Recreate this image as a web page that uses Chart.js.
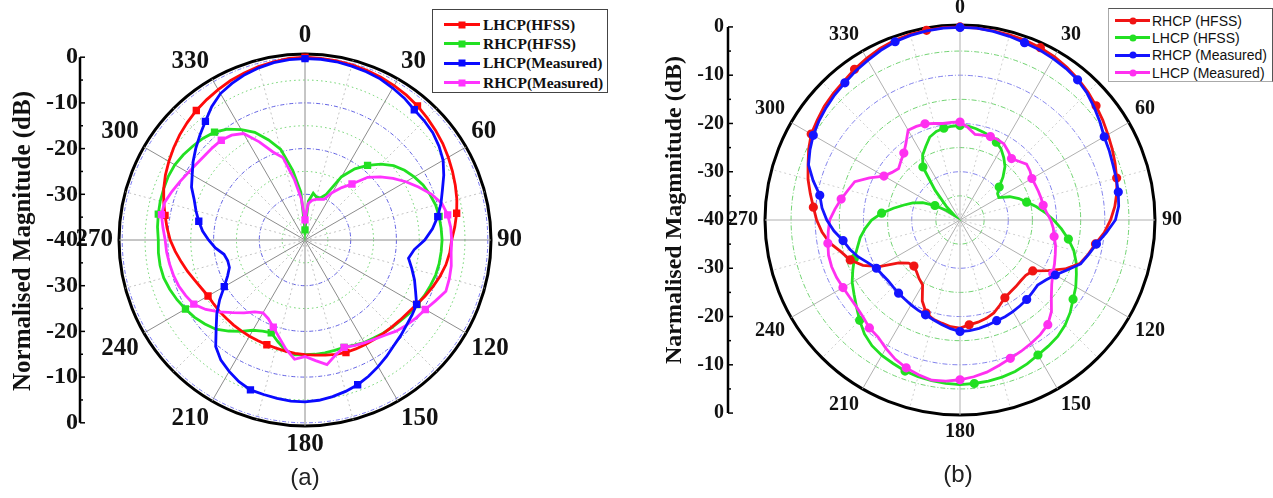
<!DOCTYPE html>
<html><head><meta charset="utf-8">
<script src="https://cdn.jsdelivr.net/npm/chart.js@4.4.1/dist/chart.umd.min.js"></script>
<style>
html,body{margin:0;padding:0;background:#fff;width:1273px;height:498px;overflow:hidden;position:relative}
canvas{position:absolute}
#ca{left:0;top:0}
#cb{left:650px;top:-10px}
.legend{position:absolute;background:#fff;box-sizing:border-box}
#legA{left:432px;top:9px;width:176px;height:84px;border:1.5px solid #444;padding:5px 0 0 11px;font:bold 15.5px "Liberation Serif",serif;color:#111}
#legB{left:1108px;top:8px;width:165px;height:74px;border:1px solid #aaa;border-top-color:#555;border-right-color:#555;padding:3px 0 0 6px;font:14px "Liberation Sans",Arial,sans-serif;color:#111}
.row{display:flex;align-items:center;white-space:nowrap}
#legA .row{height:19.3px}
#legB .row{height:17.3px}
.sw{position:relative;display:inline-block;height:3px;margin-right:3px}
#legA .sw{width:36px}
#legB .sw{width:35px;margin-right:2px}
.mk{position:absolute;left:50%;top:50%;width:7px;height:7px;transform:translate(-50%,-50%)}
.cap{position:absolute;transform:translate(-50%,-50%);font:24px "Liberation Sans",Arial,sans-serif;color:#222}
</style></head><body>
<canvas id="ca" width="610" height="480"></canvas>
<canvas id="cb" width="621" height="480"></canvas>
<div id="legA" class="legend"></div>
<div id="legB" class="legend"></div>
<div class="cap" style="left:305px;top:477px">(a)</div>
<div class="cap" style="left:958px;top:474px">(b)</div>
<script>
// ---- categories: angle in degrees (5 degree steps) ----
const angles = [0,5,10,15,20,25,30,35,40,45,50,55,60,65,70,75,80,85,90,95,100,105,110,115,120,125,130,135,140,145,150,155,160,165,170,175,180,185,190,195,200,205,210,215,220,225,230,235,240,245,250,255,260,265,270,275,280,285,290,295,300,305,310,315,320,325,330,335,340,345,350,355];
const angleTickLabels = [0,30,60,90,120,150,180,210,240,270,300,330];
const magnitudeTicks = [0,-10,-20,-30,-40];
const ringValues = [-40,-35,-30,-25,-20,-15,-10,-5,0];

// ---- panel (a) series (dB) ----
const aLabels = ['LHCP(HFSS)','RHCP(HFSS)','LHCP(Measured)','RHCP(Measured)'];
const aLhcpHfss = [0,-0.1,-0.2,-0.3,-0.5,-0.7,-1.0,-1.3,-1.7,-2.2,-2.7,-3.2,-3.8,-4.4,-5.0,-5.6,-6.3,-7.1,-7.9,-8.2,-8.7,-9.4,-10.2,-11.0,-11.8,-12.4,-12.8,-13.1,-13.3,-13.5,-13.6,-13.7,-13.8,-14.1,-14.4,-14.7,-14.9,-15.1,-15.3,-15.5,-15.6,-15.7,-15.7,-15.7,-15.7,-15.7,-15.6,-15.6,-15.5,-15.0,-14.3,-13.4,-12.5,-11.5,-10.5,-9.7,-8.9,-8.0,-7.1,-6.3,-5.6,-4.9,-4.2,-3.6,-3.0,-2.5,-2.0,-1.5,-1.1,-0.7,-0.4,-0.1];
const aRhcpHfss = [-37.8,-31.5,-29.6,-30.3,-30.2,-29.0,-24.0,-21.0,-18.7,-16.5,-14.7,-13.4,-12.4,-11.5,-10.9,-10.4,-10.2,-10.1,-10.0,-10.1,-10.2,-10.4,-10.8,-11.2,-11.7,-12.1,-12.6,-13.0,-13.4,-13.8,-14.1,-14.6,-15.0,-15.0,-14.9,-14.9,-14.9,-14.8,-15.5,-17.0,-18.4,-18.0,-17.2,-15.6,-14.0,-12.4,-11.4,-10.5,-9.8,-9.1,-8.5,-8.0,-7.8,-7.8,-7.9,-7.6,-7.4,-7.2,-7.1,-7.0,-7.1,-7.5,-8.0,-8.5,-9.2,-10.4,-12.1,-14.0,-16.7,-19.5,-24.5,-29.5];
const aLhcpMeas = [-0.3,-0.3,-0.4,-0.6,-0.8,-1.1,-1.6,-2.1,-2.8,-3.1,-3.5,-4.2,-5.1,-6.5,-8.0,-9.2,-10.5,-12.0,-13.8,-16.0,-17.0,-15.8,-14.5,-13.3,-11.8,-11.4,-11.0,-10.4,-9.8,-8.9,-8.0,-7.1,-6.3,-5.7,-5.2,-4.8,-4.6,-4.6,-4.8,-5.0,-5.1,-5.8,-6.8,-7.9,-9.6,-12.5,-14.8,-17.2,-19.6,-21.3,-22.4,-22.5,-22.0,-20.3,-18.9,-17.5,-16.4,-15.3,-14.2,-12.6,-11.5,-10.1,-8.8,-7.5,-6.1,-4.4,-3.0,-2.2,-1.5,-1.0,-0.6,-0.4];
const aRhcpMeas = [-35.6,-32.0,-31.2,-30.8,-30.5,-30.2,-28.0,-26.0,-24.0,-20.6,-18.5,-16.5,-14.5,-12.6,-10.6,-9.0,-8.3,-8.0,-7.9,-7.9,-7.5,-7.3,-7.2,-8.5,-9.6,-10.3,-11.0,-11.8,-12.8,-13.5,-14.0,-14.5,-15.0,-14.0,-12.3,-13.5,-14.5,-13.8,-15.8,-18.0,-19.7,-21.0,-21.6,-20.8,-19.2,-17.5,-15.5,-13.5,-11.9,-11.2,-10.6,-10.2,-9.9,-9.6,-9.4,-8.8,-8.1,-8.2,-9.0,-9.8,-10.5,-11.0,-11.3,-11.4,-11.5,-12.0,-13.1,-16.3,-19.5,-21.3,-26.5,-31.0];

// ---- panel (b) series (dB) ----
const bLabels = ['RHCP (HFSS)','LHCP (HFSS)','RHCP (Measured)','LHCP (Measured)'];
const bRhcpHfss = [0,-0.1,-0.2,-0.3,-0.4,-0.6,-0.9,-1.4,-1.9,-2.5,-3.2,-3.9,-4.6,-5.2,-5.8,-6.4,-7.0,-7.8,-8.8,-10.0,-11.5,-12.5,-13.6,-16.0,-19.0,-21.6,-22.2,-22.2,-22.0,-21.8,-21.4,-20.5,-19.5,-18.9,-18.5,-18.2,-17.6,-17.8,-18.3,-18.7,-19.5,-21.5,-24.5,-25.2,-26.0,-26.5,-26.1,-24.5,-20.7,-17.8,-15.8,-14.5,-12.6,-11.3,-10.3,-9.5,-8.5,-7.4,-6.5,-5.4,-4.4,-3.9,-3.3,-2.9,-2.5,-1.9,-1.3,-0.8,-0.4,-0.2,-0.1,0];
const bLhcpHfss = [-20.4,-20.5,-20.8,-21.2,-21.5,-22.2,-23.0,-24.2,-25.5,-27.4,-29.4,-30.5,-30.7,-28.6,-27.0,-25.7,-24.0,-22.3,-20.6,-18.9,-17.2,-15.6,-14.4,-13.4,-12.3,-11.4,-10.2,-9.2,-8.5,-8.1,-7.7,-7.1,-6.6,-6.3,-6.1,-6.0,-5.9,-6.0,-6.2,-6.4,-6.7,-7.2,-7.6,-8.2,-9.2,-10.6,-12.0,-13.2,-14.2,-15.5,-16.7,-18.0,-19.0,-20.3,-21.7,-23.7,-26.0,-28.0,-29.6,-31.5,-34.0,-36.5,-38.5,-36.0,-32.0,-26.6,-24.5,-23.2,-21.7,-21.0,-20.7,-20.5];
const bRhcpMeas = [-0.1,-0.1,-0.3,-0.6,-0.9,-1.1,-1.4,-1.7,-2.1,-2.8,-3.7,-4.6,-5.5,-5.9,-6.3,-6.5,-6.7,-7.0,-7.8,-9.6,-11.3,-12.4,-13.4,-15.5,-17.2,-18.3,-19.0,-18.8,-18.5,-18.3,-18.1,-17.9,-17.8,-17.5,-17.2,-17.0,-16.9,-17.4,-18.0,-18.6,-19.1,-19.4,-19.7,-20.0,-20.2,-20.4,-20.5,-20.3,-20.0,-19.0,-17.6,-16.4,-15.4,-13.8,-12.4,-11.3,-10.5,-8.5,-6.6,-5.7,-4.9,-4.3,-3.8,-3.3,-2.9,-2.3,-1.8,-1.2,-0.7,-0.4,-0.2,-0.1];
const bLhcpMeas = [-19.7,-20.8,-22.0,-21.8,-21.6,-21.6,-21.8,-22.6,-23.4,-22.8,-22.0,-22.3,-22.8,-22.8,-22.7,-22.6,-22.5,-22.0,-21.2,-20.6,-20.2,-19.5,-19.0,-18.4,-17.8,-16.8,-15.3,-13.2,-11.7,-11.0,-10.5,-10.0,-9.5,-8.8,-8.0,-7.4,-6.9,-6.5,-6.3,-6.8,-7.4,-8.2,-9.3,-10.4,-10.8,-11.6,-12.0,-12.1,-12.0,-11.8,-11.7,-11.8,-12.2,-12.6,-13.0,-14.0,-15.0,-16.0,-16.8,-19.3,-21.8,-22.8,-23.4,-22.7,-21.9,-20.5,-18.5,-18.6,-18.8,-19.3,-19.7,-19.7];

// ---- left magnitude axis drawn from the radial scale ----
const leftAxisPlugin = {
  id: 'leftAxis',
  afterDraw(chart, args, o) {
    const s = chart.scales.r, ctx = chart.ctx;
    const x = s.xCenter - o.offset, yc = s.yCenter;
    const d0 = s.getDistanceFromCenterForValue(0);
    ctx.save();
    ctx.strokeStyle = '#000'; ctx.lineWidth = o.lineWidth;
    ctx.beginPath(); ctx.moveTo(x, yc - d0); ctx.lineTo(x, yc + d0); ctx.stroke();
    ctx.lineWidth = 1.5;
    for (let v = -40; v <= 0; v += 5) {
      const d = s.getDistanceFromCenterForValue(v);
      const len = (v % 10 === 0) ? o.tickLen : o.tickLen * 0.6;
      [yc - d, yc + d].forEach(y => { ctx.beginPath(); ctx.moveTo(x, y); ctx.lineTo(x + len, y); ctx.stroke(); });
    }
    ctx.fillStyle = '#111'; ctx.font = o.font; ctx.textAlign = 'right'; ctx.textBaseline = 'middle';
    magnitudeTicks.forEach(v => {
      const d = s.getDistanceFromCenterForValue(v);
      ctx.fillText(String(v), x - o.gap, yc - d);
      if (d > 0.5) ctx.fillText(String(v), x - o.gap, yc + d);
    });
    ctx.translate(o.titleX, yc + o.titleDy); ctx.rotate(-Math.PI / 2);
    ctx.textAlign = 'center'; ctx.font = o.titleFont;
    ctx.fillText(o.title, 0, 0);
    ctx.restore();
  }
};

function radialScale(maxV, fontSize, pad, gridStyle) {
  return {
    min: -40, max: maxV,
    afterBuildTicks: (axis) => { axis.ticks = ringValues.concat([maxV]).map(v => ({value: v})); },
    ticks: {display: false},
    grid: {
      circular: true,
      color: (c) => {
        const v = c.tick.value;
        if (v === maxV) return '#000';
        if (v === -40) return 'rgba(0,0,0,0)';
        if (v === 0) return gridStyle.zero;
        return (v % 10 === 0) ? gridStyle.blue : gridStyle.green;
      },
      lineWidth: (c) => c.tick.value === maxV ? 3 : 1
    },
    border: {
      dash: (c) => {
        const v = c.tick.value;
        if (v === maxV) return [];
        return (v % 10 === 0) ? gridStyle.blueDash : gridStyle.greenDash;
      }
    },
    angleLines: {
      display: true,
      color: (c) => c.index % 6 === 0 ? gridStyle.angle : gridStyle.angleMinor,
      lineWidth: (c) => c.index % 3 === 0 ? 1 : 0,
      borderDash: (c) => c.index % 6 === 0 ? [] : [2, 3]
    },
    pointLabels: {
      display: true,
      padding: pad,
      color: '#111',
      font: {family: '"Liberation Serif", serif', size: fontSize, weight: 'bold', lineHeight: 1},
      callback: (label) => angleTickLabels.includes(Number(label)) ? String(label) : ''
    }
  };
}

function ds(label, data, color, style, every, order) {
  return {
    label, data, order,
    borderColor: color, backgroundColor: color,
    pointBackgroundColor: color, pointBorderColor: color,
    borderWidth: 2.8, fill: false, tension: 0,
    pointStyle: style,
    pointRadius: (c) => c.dataIndex % every === 0 ? 3.2 : 0
  };
}

const chartA = new Chart(document.getElementById('ca'), {
  type: 'radar',
  data: {
    labels: angles,
    datasets: [
      ds(aLabels[0], aLhcpHfss, '#ff0a0a', 'rect', 8, 2),
      ds(aLabels[1], aRhcpHfss, '#22e022', 'rect', 8, 2),
      ds(aLabels[2], aLhcpMeas, '#0a0aff', 'rect', 8, 1),
      ds(aLabels[3], aRhcpMeas, '#ff33ff', 'rect', 8, 1)
    ]
  },
  options: {
    responsive: false, animation: false, events: [], devicePixelRatio: 1,
    layout: {padding: {top: 23, bottom: 23, left: 0, right: 0}},
    scales: {r: radialScale(0.7, 25, 6, {zero: 'rgba(90,90,240,0.8)', blue: 'rgba(60,60,220,0.8)', green: 'rgba(70,200,70,0.8)', blueDash: [4, 2, 1, 2], greenDash: [1.5, 3], angle: '#8c8c8c', angleMinor: '#c4c4c4'})},
    plugins: {
      legend: {display: false}, tooltip: {enabled: false},
      leftAxis: {offset: 225, lineWidth: 2.5, tickLen: 5, gap: 2, font: 'bold 24px "Liberation Serif", serif',
        titleX: 24, titleDy: 1, titleFont: 'bold 25px "Liberation Serif", serif', title: 'Normalised Magnitude (dB)'}
    }
  },
  plugins: [leftAxisPlugin]
});

const chartB = new Chart(document.getElementById('cb'), {
  type: 'radar',
  data: {
    labels: angles,
    datasets: [
      ds(bLabels[0], bRhcpHfss, '#f01414', 'circle', 5, 2),
      ds(bLabels[1], bLhcpHfss, '#22e022', 'circle', 5, 2),
      ds(bLabels[2], bRhcpMeas, '#1414ff', 'circle', 4, 1),
      ds(bLabels[3], bLhcpMeas, '#ff30f0', 'circle', 4, 1)
    ]
  },
  options: {
    responsive: false, animation: false, events: [], devicePixelRatio: 1,
    layout: {padding: {top: 8, bottom: 28, left: 0, right: 0}},
    scales: {r: radialScale(0.4, 20, 7, {zero: 'rgba(0,0,0,0)', blue: 'rgba(90,90,230,0.75)', green: 'rgba(80,200,80,0.8)', blueDash: [5, 2, 1, 2], greenDash: [5, 2, 1, 2], angle: '#b0b0b0', angleMinor: '#cfcfcf'})},
    plugins: {
      legend: {display: false}, tooltip: {enabled: false},
      leftAxis: {offset: 232, lineWidth: 2.5, tickLen: 5, gap: 4, font: 'bold 20px "Liberation Serif", serif',
        titleX: 25, titleDy: -10, titleFont: 'bold 24px "Liberation Serif", serif', title: 'Narmalised Magmnitude (dB)'}
    }
  },
  plugins: [leftAxisPlugin]
});

function buildLegend(el, chart) {
  chart.data.datasets.forEach(d => {
    const row = document.createElement('div'); row.className = 'row';
    const sw = document.createElement('span'); sw.className = 'sw'; sw.style.background = d.borderColor;
    const mk = document.createElement('span'); mk.className = 'mk'; mk.style.background = d.borderColor;
    if (d.pointStyle === 'circle') mk.style.borderRadius = '50%';
    sw.appendChild(mk);
    const tx = document.createElement('span'); tx.textContent = d.label;
    row.appendChild(sw); row.appendChild(tx);
    el.appendChild(row);
  });
}
buildLegend(document.getElementById('legA'), chartA);
buildLegend(document.getElementById('legB'), chartB);
</script>
</body></html>
